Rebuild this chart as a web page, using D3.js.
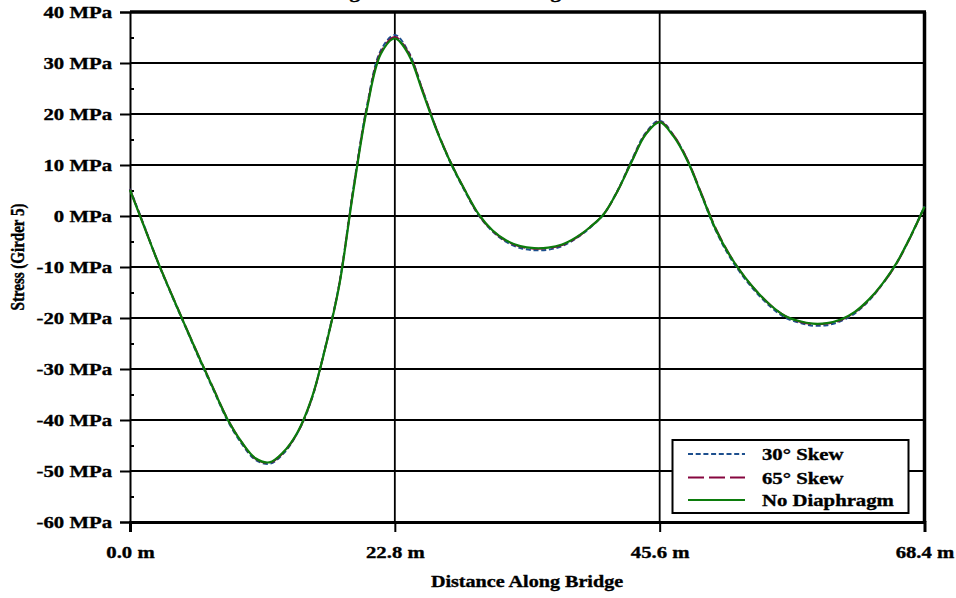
<!DOCTYPE html>
<html>
<head>
<meta charset="utf-8">
<script src="https://cdn.jsdelivr.net/npm/d3@7"></script>
<style>
  html, body { margin: 0; padding: 0; background: #fff; }
  svg { display: block; }
  text { font-family: "Liberation Serif", "Times New Roman", serif; font-weight: bold; fill: #000;
         stroke: #000; stroke-width: 0.35px; }
</style>
</head>
<body>
<svg id="chart" width="956" height="598"></svg>
<script>
// Stations along the bridge (m)
const distance = [0, 1.2, 2.4, 3.6, 4.8, 6.0, 7.2, 8.4, 9.6, 10.8, 12.0, 13.2, 14.4, 15.6, 16.8, 18.0, 19.2, 20.4, 21.6, 22.8,
  24.0, 25.2, 26.4, 27.6, 28.8, 30.0, 31.2, 32.4, 33.6, 34.8, 36.0, 37.2, 38.4, 39.6, 40.8, 42.0, 43.2, 44.4, 45.6,
  46.8, 48.0, 49.2, 50.4, 51.6, 52.8, 54.0, 55.2, 56.4, 57.6, 58.8, 60.0, 61.2, 62.4, 63.6, 64.8, 66.0, 67.2, 68.4];

// Girder 5 stress (MPa) for each diaphragm case
const skew30 = [5.3, -1.8, -9.1, -15.6, -21.9, -28.2, -34.2, -40.1, -44.6, -47.8, -48.6, -46.6, -42.6, -36.2, -25.8, -13.5, 5.0, 21.6, 32.5, 35.5,
  32.1, 24.6, 16.9, 10.4, 5.0, 0.2, -3.0, -5.1, -6.3, -6.7, -6.6, -5.9, -4.4, -2.3, 0.4, 5.1, 11.0, 16.3, 18.7,
  15.8, 10.9, 4.1, -2.7, -7.9, -11.9, -15.2, -17.9, -19.9, -20.9, -21.5, -21.4, -20.6, -19.1, -16.6, -13.3, -9.2, -4.0, 1.9];
const skew65 = [5.2, -1.9, -9.0, -15.4, -21.7, -27.9, -33.9, -39.8, -44.3, -47.6, -48.4, -46.4, -42.6, -36.1, -26.0, -13.6, 4.8, 21.3, 32.1, 35.1,
  31.9, 24.6, 17.0, 10.6, 5.2, 0.3, -2.9, -4.9, -6.0, -6.4, -6.3, -5.7, -4.3, -2.2, 0.4, 5.0, 10.8, 16.1, 18.5,
  15.8, 11.0, 4.4, -2.3, -7.5, -11.6, -14.9, -17.6, -19.6, -20.7, -21.2, -21.1, -20.4, -18.9, -16.5, -13.3, -9.3, -4.1, 1.8];
const noDiaphragm = [5.1, -2.0, -9.0, -15.5, -21.8, -28.0, -34.0, -39.9, -44.3, -47.5, -48.3, -46.3, -42.5, -36.0, -26.0, -13.8, 4.5, 21.0, 31.8, 34.8,
  31.6, 24.3, 16.8, 10.5, 5.2, 0.4, -2.8, -4.8, -5.9, -6.3, -6.2, -5.6, -4.2, -2.2, 0.4, 5.0, 10.7, 16.0, 18.4,
  15.6, 10.8, 4.2, -2.5, -7.6, -11.6, -14.9, -17.6, -19.6, -20.6, -21.1, -21.0, -20.3, -18.8, -16.4, -13.2, -9.2, -4.0, 1.8];

const seriesNames = ["30\u00B0 Skew", "65\u00B0 Skew", "No Diaphragm"];
const stressTicks = [-60, -50, -40, -30, -20, -10, 0, 10, 20, 30, 40];
const stressMinorTicks = [-55, -45, -35, -25, -15, -5, 5, 15, 25, 35];
const distanceTicks = [0, 22.8, 45.6, 68.4];

const svg = d3.select("#chart");
const plotLeft = 130, plotRight = 924.5, plotTop = 12, plotBottom = 522;
const FONT = 17;       // label font size
const WIDEN = 1.22;    // horizontal stretch of the lettering

const x = d3.scaleLinear().domain([0, 68.4]).range([plotLeft, plotRight]);
const y = d3.scaleLinear().domain([-60, 40]).range([plotBottom, plotTop]);

// place a widened text label at (px, py)
function label(parent, px, py, str, anchor, extra) {
  return parent.append("text")
    .attr("transform", `translate(${px},${py}) scale(${WIDEN},1)${extra || ""}`)
    .attr("text-anchor", anchor || "start")
    .attr("font-size", FONT)
    .text(str);
}

// Horizontal grid
svg.append("g").selectAll("line").data(stressTicks).join("line")
  .attr("x1", plotLeft).attr("x2", plotRight)
  .attr("y1", d => y(d)).attr("y2", d => y(d))
  .attr("stroke", "#000").attr("stroke-width", 2);

// Vertical grid
svg.append("g").selectAll("line").data(distanceTicks.slice(1, 3)).join("line")
  .attr("x1", d => x(d)).attr("x2", d => x(d))
  .attr("y1", plotTop).attr("y2", plotBottom)
  .attr("stroke", "#000").attr("stroke-width", 1.8);

// Frame: heavy top and right edges
svg.append("line").attr("x1", plotLeft).attr("x2", plotRight + 1.5).attr("y1", plotTop).attr("y2", plotTop)
  .attr("stroke", "#000").attr("stroke-width", 3.5);
svg.append("line").attr("x1", plotRight).attr("x2", plotRight).attr("y1", plotTop).attr("y2", plotBottom)
  .attr("stroke", "#000").attr("stroke-width", 3.5);

// Y axis
const yAxis = svg.append("g").attr("transform", `translate(${plotLeft},0)`)
  .call(d3.axisLeft(y).tickValues(stressTicks).tickSize(10).tickPadding(8)
    .tickFormat(d => `${d} MPa`));
yAxis.select(".domain").attr("stroke-width", 2);
yAxis.selectAll(".tick line").attr("stroke-width", 2);
yAxis.selectAll("text").attr("font-size", FONT).attr("font-family", null).attr("fill", null)
  .attr("x", -18 / WIDEN).attr("transform", `scale(${WIDEN},1)`);

svg.append("g").attr("transform", `translate(${plotLeft},0)`)
  .call(d3.axisLeft(y).tickValues(stressMinorTicks).tickSize(-4).tickFormat(""))
  .call(g => g.select(".domain").remove())
  .selectAll(".tick line").attr("stroke-width", 2);

// X axis
const xAxis = svg.append("g").attr("transform", `translate(0,${plotBottom})`)
  .call(d3.axisBottom(x).tickValues(distanceTicks).tickSize(10).tickPadding(13.5)
    .tickFormat(d => `${d3.format(".1f")(d)} m`));
xAxis.select(".domain").attr("stroke-width", 3);
xAxis.selectAll(".tick line").attr("stroke-width", 2);
xAxis.selectAll("text").attr("font-size", FONT).attr("font-family", null).attr("fill", null)
  .attr("transform", `scale(${WIDEN},1)`);

// Curves
const rows = [skew30, skew65, noDiaphragm];
const colors = ["#1d4f8e", "#86063f", "#0c7c0c"];
const dashes = ["5,2.7", "16,5", null];
const widths = [2, 2, 2.2];

const line = d3.line().curve(d3.curveCatmullRom.alpha(0.5))
  .x((d, i) => x(distance[i])).y(d => y(d));

svg.append("g").selectAll("path").data(rows).join("path")
  .attr("d", d => line(d))
  .attr("fill", "none")
  .attr("stroke", (d, i) => colors[i])
  .attr("stroke-width", (d, i) => widths[i])
  .attr("stroke-dasharray", (d, i) => dashes[i]);

// Legend
const lg = svg.append("g");
lg.append("rect").attr("x", 672.5).attr("y", 440).attr("width", 236).attr("height", 73)
  .attr("fill", "#fff").attr("stroke", "#000").attr("stroke-width", 2);
const rowY = [454, 477.5, 500];
seriesNames.forEach((name, i) => {
  lg.append("line").attr("x1", 688).attr("x2", 745).attr("y1", rowY[i]).attr("y2", rowY[i])
    .attr("stroke", colors[i]).attr("stroke-width", 2).attr("stroke-dasharray", dashes[i]);
  label(lg, 762, rowY[i] + 6, name);
});

// Axis titles
label(svg, 527, 587, "Distance Along Bridge", "middle").attr("font-size", 16.5);
label(svg, 24, 257, "Stress (Girder 5)", "middle", " rotate(-90)").attr("font-size", 15);

// Chart title (sits above the frame)
label(svg, 478, -2, "Longitudinal Stresses Along Girder 5", "middle");
</script>
</body>
</html>
